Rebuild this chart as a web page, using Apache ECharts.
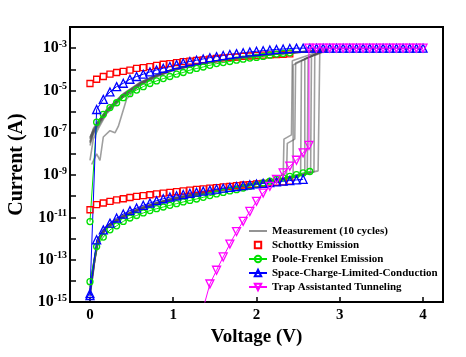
<!DOCTYPE html>
<html><head><meta charset="utf-8">
<script src="https://cdn.jsdelivr.net/npm/echarts@6/dist/echarts.min.js"></script>
<style>html,body{margin:0;padding:0;background:#fff}#c{width:466px;height:357px}</style>
</head><body><div id="c"></div>
<script>
// Voltage grid of the model curves (V)
const voltsModel = [0,0.08,0.16,0.24,0.32,0.40,0.48,0.56,0.64,0.72,0.80,0.88,0.96,1.04,1.12,1.20,1.28,1.36,1.44,1.52,1.60,1.68,1.76,1.84,1.92,2.00,2.08,2.16,2.24,2.32,2.40,2.48,2.56,2.64,2.72,2.80,2.88,2.96,3.04,3.12,3.20,3.28,3.36,3.44,3.52,3.60,3.68,3.76,3.84,3.92,4.00];
// All currents below are log10(I / A)
const schottkyLRS = [-4.67,-4.47,-4.34,-4.23,-4.15,-4.10,-4.04,-3.96,-3.92,-3.87,-3.81,-3.76,-3.73,-3.68,-3.64,-3.61,-3.58,-3.55,-3.52,-3.49,-3.46,-3.44,-3.42,-3.39,-3.37,-3.35,-3.33,-3.32,-3.30,-3.29,-3.27];
const schottkyHRS = [-10.64,-10.40,-10.32,-10.24,-10.17,-10.12,-10.06,-10.01,-9.97,-9.93,-9.89,-9.85,-9.82,-9.78,-9.75,-9.71,-9.68,-9.65,-9.62,-9.59,-9.56,-9.53,-9.50,-9.47,-9.45,-9.42,-9.39,-9.37,-9.34,-9.32,-9.29];
const pfLRS = [-11.2,-6.5,-6.13,-5.81,-5.58,-5.34,-5.15,-4.98,-4.82,-4.67,-4.55,-4.44,-4.34,-4.23,-4.15,-4.04,-3.96,-3.89,-3.81,-3.73,-3.68,-3.63,-3.57,-3.52,-3.47,-3.44,-3.39,-3.33,-3.28,-3.25,-3.22];
const pfHRS = [-14.04,-12.38,-11.93,-11.59,-11.40,-11.19,-11.03,-10.91,-10.79,-10.68,-10.59,-10.51,-10.43,-10.35,-10.27,-10.20,-10.13,-10.05,-9.97,-9.89,-9.82,-9.75,-9.69,-9.61,-9.53,-9.45,-9.37,-9.29,-9.21,-9.13,-9.06,-8.98,-8.90,-8.83];
const sclcLRS = [-14.6,-5.9,-5.42,-5.07,-4.82,-4.66,-4.47,-4.34,-4.23,-4.12,-4.03,-3.95,-3.87,-3.78,-3.70,-3.63,-3.57,-3.51,-3.45,-3.40,-3.35,-3.30,-3.26,-3.22,-3.18,-3.15,-3.12,-3.09,-3.06,-3.04,-3.02,-3.00,-3.00,-3.00,-3.00,-3.00,-3.00,-3.00,-3.00,-3.00,-3.00,-3.00,-3.00,-3.00,-3.00,-3.00,-3.00,-3.00,-3.00,-3.00,-3.00];
const sclcHRS = [-14.7,-12.06,-11.59,-11.27,-11.03,-10.84,-10.68,-10.56,-10.43,-10.32,-10.21,-10.12,-10.04,-9.98,-9.92,-9.86,-9.81,-9.76,-9.71,-9.66,-9.62,-9.58,-9.54,-9.50,-9.46,-9.42,-9.39,-9.36,-9.32,-9.29,-9.26,-9.23,-9.20];
// Trap assisted tunnelling: its own voltage list (V) and log10 currents
const tatVolts = [1.36,1.44,1.52,1.60,1.68,1.76,1.84,1.92,2.00,2.08,2.16,2.24,2.32,2.40,2.48,2.56,2.63,2.63,2.72,2.80,2.88,2.96,3.04,3.12,3.20,3.28,3.36,3.44,3.52,3.60,3.68,3.76,3.84,3.92,4.00];
const tatValues = [-15.3,-14.15,-13.5,-12.87,-12.26,-11.67,-11.19,-10.72,-10.24,-9.85,-9.53,-9.21,-8.90,-8.58,-8.30,-7.95,-7.6,-3.00,-3.00,-3.00,-3.00,-3.00,-3.00,-3.00,-3.00,-3.00,-3.00,-3.00,-3.00,-3.00,-3.00,-3.00,-3.00,-3.00,-3.00];
// Measurement cycles: [V, log10 I]
const cycles = [
 [[0,-14.6],[0.04,-13.6],[0.08,-12.3],[0.15,-11.7],[0.3,-11.2],[0.5,-10.8],[0.75,-10.45],[1.0,-10.2],[1.3,-9.95],[1.6,-9.72],[1.9,-9.5],[2.2,-9.3],[2.32,-9.2],[2.33,-7.3],[2.42,-7.1],[2.43,-3.6],[2.78,-3.12],[2.5,-3.2],[2.2,-3.3],[2.0,-3.37],[1.8,-3.46],[1.6,-3.57],[1.4,-3.7],[1.2,-3.85],[1.0,-4.02],[0.8,-4.3],[0.6,-4.7],[0.4,-5.25],[0.2,-6.0],[0.1,-6.6],[0.04,-7.0],[0,-7.5]],
 [[0,-14.3],[0.05,-13.0],[0.09,-12.2],[0.15,-11.6],[0.3,-11.15],[0.5,-10.75],[0.75,-10.4],[1.0,-10.15],[1.3,-9.9],[1.6,-9.68],[1.9,-9.48],[2.2,-9.28],[2.44,-9.1],[2.44,-3.8],[2.8,-3.1],[2.5,-3.18],[2.2,-3.28],[2.0,-3.35],[1.8,-3.44],[1.6,-3.55],[1.4,-3.68],[1.2,-3.82],[1.0,-4.0],[0.8,-4.28],[0.6,-4.65],[0.4,-5.2],[0.2,-5.95],[0.1,-6.5],[0.04,-6.9],[0,-7.2]],
 [[0,-14.5],[0.05,-13.2],[0.1,-12.1],[0.2,-11.45],[0.4,-10.95],[0.6,-10.6],[0.8,-10.35],[1.0,-10.12],[1.3,-9.88],[1.6,-9.66],[1.9,-9.45],[2.2,-9.27],[2.36,-9.15],[2.37,-7.5],[2.46,-7.3],[2.47,-3.7],[2.82,-3.1],[2.5,-3.19],[2.2,-3.29],[2.0,-3.36],[1.8,-3.45],[1.6,-3.56],[1.4,-3.69],[1.2,-3.84],[1.0,-4.03],[0.8,-4.32],[0.6,-4.72],[0.44,-5.4],[0.34,-6.7],[0.3,-7.0],[0.24,-6.9],[0.16,-7.2],[0.12,-8.3],[0.08,-8.0],[0.02,-8.5]],
 [[0,-14.8],[0.06,-12.9],[0.1,-12.0],[0.2,-11.4],[0.4,-10.9],[0.6,-10.55],[0.8,-10.3],[1.0,-10.1],[1.3,-9.85],[1.6,-9.64],[1.9,-9.44],[2.2,-9.25],[2.53,-9.0],[2.54,-3.6],[2.8,-3.12],[2.5,-3.17],[2.2,-3.27],[2.0,-3.34],[1.8,-3.43],[1.6,-3.54],[1.4,-3.67],[1.2,-3.81],[1.0,-3.98],[0.8,-4.26],[0.6,-4.62],[0.4,-5.15],[0.2,-5.9],[0.1,-6.45],[0.04,-6.8],[0,-7.3]],
 [[0,-14.4],[0.05,-13.1],[0.1,-12.15],[0.2,-11.5],[0.4,-11.0],[0.6,-10.62],[0.8,-10.36],[1.0,-10.14],[1.3,-9.9],[1.6,-9.68],[1.9,-9.47],[2.2,-9.28],[2.58,-9.0],[2.58,-3.5],[2.84,-3.1],[2.5,-3.2],[2.2,-3.3],[2.0,-3.38],[1.8,-3.47],[1.6,-3.58],[1.4,-3.71],[1.2,-3.86],[1.0,-4.05],[0.8,-4.35],[0.6,-4.78],[0.4,-5.3],[0.2,-6.05],[0.1,-6.7],[0.04,-7.1],[0,-7.6]],
 [[0,-14.6],[0.06,-12.8],[0.1,-12.05],[0.2,-11.45],[0.4,-10.92],[0.6,-10.58],[0.8,-10.32],[1.0,-10.1],[1.3,-9.86],[1.6,-9.65],[1.9,-9.45],[2.2,-9.26],[2.61,-8.95],[2.62,-3.45],[2.8,-3.12],[2.5,-3.19],[2.2,-3.29],[2.0,-3.36],[1.8,-3.45],[1.6,-3.56],[1.4,-3.69],[1.2,-3.83],[1.0,-4.01],[0.8,-4.29],[0.6,-4.68],[0.4,-5.22],[0.2,-5.98],[0.1,-6.55],[0.04,-6.95],[0,-7.4]],
 [[0,-14.5],[0.05,-13.0],[0.1,-12.1],[0.2,-11.5],[0.4,-10.97],[0.6,-10.6],[0.8,-10.34],[1.0,-10.13],[1.3,-9.89],[1.6,-9.67],[1.9,-9.46],[2.2,-9.27],[2.65,-8.9],[2.66,-3.4],[2.82,-3.1],[2.5,-3.18],[2.2,-3.28],[2.0,-3.35],[1.8,-3.44],[1.6,-3.55],[1.4,-3.68],[1.2,-3.82],[1.0,-4.0],[0.8,-4.27],[0.6,-4.64],[0.4,-5.18],[0.2,-5.92],[0.1,-6.5],[0.04,-6.85],[0,-7.25]],
 [[0,-14.7],[0.06,-12.9],[0.1,-12.0],[0.2,-11.42],[0.4,-10.93],[0.6,-10.57],[0.8,-10.31],[1.0,-10.1],[1.3,-9.86],[1.6,-9.64],[1.9,-9.44],[2.2,-9.25],[2.69,-8.85],[2.7,-3.35],[2.85,-3.1],[2.5,-3.19],[2.2,-3.29],[2.0,-3.37],[1.8,-3.46],[1.6,-3.57],[1.4,-3.7],[1.2,-3.84],[1.0,-4.02],[0.8,-4.31],[0.6,-4.7],[0.4,-5.24],[0.2,-6.0],[0.1,-6.6],[0.04,-7.0],[0,-7.45]],
 [[0,-14.5],[0.05,-13.2],[0.1,-12.1],[0.2,-11.48],[0.4,-10.96],[0.6,-10.6],[0.8,-10.33],[1.0,-10.12],[1.3,-9.88],[1.6,-9.66],[1.9,-9.46],[2.2,-9.27],[2.74,-8.8],[2.76,-3.2],[2.86,-3.1],[2.5,-3.2],[2.2,-3.3],[2.0,-3.38],[1.8,-3.47],[1.6,-3.58],[1.4,-3.71],[1.2,-3.86],[1.0,-4.04],[0.8,-4.34],[0.6,-4.75],[0.4,-5.3],[0.2,-6.1],[0.1,-6.8],[0.04,-7.3],[0,-8.3]]
];
const xTicks = [0,1,2,3,4];
const legendNames = ['Measurement (10 cycles)','Schottky Emission','Poole-Frenkel Emission','Space-Charge-Limited-Conduction','Trap Assistanted Tunneling'];

const toPts = (vals, volts) => vals.map((e, i) => [volts[i], Math.pow(10, e)]);
const FONT = '"Liberation Serif", "Times New Roman", serif';
const GRAY = '#505050';

const series = [];
cycles.forEach(c => series.push({
  name: legendNames[0], type: 'line', showSymbol: false, symbol: 'none',
  data: c.map(p => [p[0], Math.pow(10, p[1])]),
  lineStyle: {color: GRAY, width: 1.6, opacity: 0.55}, itemStyle: {color: GRAY},
  z: 1, silent: true, animation: false
}));
function model(name, color, symbol, size, vals, volts, showLine) {
  return {
    name, type: 'line', symbol, symbolSize: size, showAllSymbol: true,
    data: toPts(vals, volts),
    lineStyle: {color, width: showLine ? 1 : 0, opacity: showLine ? 1 : 0},
    itemStyle: {color: 'rgba(255,255,255,0)', borderColor: color, borderWidth: 1.3},
    z: 3, animation: false
  };
}
const RED = '#ff0000', GREEN = '#00e000', BLUE = '#0000ff', MAG = '#ff00ff';
series.push(model(legendNames[1], RED, 'rect', 6, schottkyLRS, voltsModel, false));
series.push(model(legendNames[1], RED, 'rect', 6, schottkyHRS, voltsModel, false));
series.push(model(legendNames[2], GREEN, 'circle', 6, pfLRS, voltsModel, true));
series.push(model(legendNames[2], GREEN, 'circle', 6, pfHRS, voltsModel, true));
series.push(model(legendNames[3], BLUE, 'triangle', 8, sclcLRS, voltsModel, true));
series.push(model(legendNames[3], BLUE, 'triangle', 8, sclcHRS, voltsModel, true));
const tat = model(legendNames[4], MAG, 'triangle', 8, tatValues, tatVolts, true);
tat.symbolRotate = 180;
series.push(tat);

const chart = echarts.init(document.getElementById('c'), null, {renderer: 'canvas'});
chart.setOption({
  backgroundColor: '#fff',
  animation: false,
  grid: {left: 70, right: 23, top: 27, bottom: 55, outerBoundsMode: 'none', containLabel: false,
         show: true, borderColor: '#000', borderWidth: 2, backgroundColor: 'transparent'},
  xAxis: {
    type: 'value', min: -0.24, max: 4.24,
    name: 'Voltage (V)', nameLocation: 'middle', nameGap: 22,
    nameTextStyle: {fontFamily: FONT, fontWeight: 'bold', fontSize: 19, color: '#000'},
    axisLine: {onZero: false, lineStyle: {color: '#000', width: 2}},
    axisTick: {inside: true, length: 5, lineStyle: {color: '#000', width: 1.5}, customValues: xTicks},
    axisLabel: {customValues: xTicks, fontFamily: FONT, fontWeight: 'bold', fontSize: 15, color: '#000', margin: 6},
    splitLine: {show: false}
  },
  yAxis: {
    type: 'log', logBase: 10, min: 1e-15, max: 1e-2, interval: 1,
    name: 'Current (A)', nameLocation: 'middle', nameGap: 41,
    nameTextStyle: {fontFamily: FONT, fontWeight: 'bold', fontSize: 20, color: '#000'},
    axisLine: {onZero: false, lineStyle: {color: '#000', width: 2}},
    axisTick: {inside: true, length: 6, lineStyle: {color: '#000', width: 1.5}},
    axisLabel: {
      margin: 3, color: '#000',
      formatter: v => {
        const e = Math.round(Math.log10(v));
        if (e > -3 || Math.abs(e) % 2 === 0) return '';
        return '{b|10}{s|' + e + '}';
      },
      rich: {
        b: {fontFamily: FONT, fontWeight: 'bold', fontSize: 16, color: '#000'},
        s: {fontFamily: FONT, fontWeight: 'bold', fontSize: 10, color: '#000', padding: [0, 0, 8, 0]}
      }
    },
    splitLine: {show: false}, minorTick: {show: false}
  },
  legend: {
    orient: 'vertical', left: 248, top: 225, padding: 0, itemWidth: 18, itemHeight: 8, itemGap: 2,
    data: [
      {name: legendNames[0], icon: 'path://M0,0 L20,0 L20,2 L0,2 Z', itemStyle: {color: '#888'}},
      legendNames[1], legendNames[2], legendNames[3], legendNames[4]
    ],
    textStyle: {fontFamily: FONT, fontWeight: 'bold', fontSize: 11, lineHeight: 12, color: '#000'},
    selectedMode: false
  },
  series
});
</script></body></html>
